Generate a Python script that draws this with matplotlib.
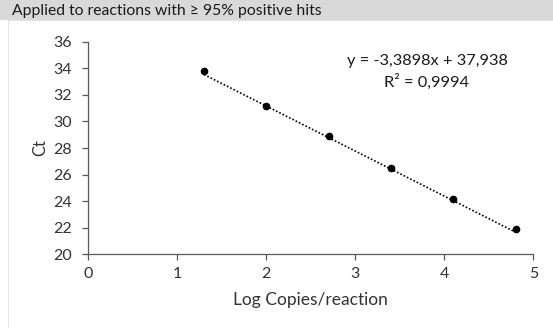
import matplotlib
matplotlib.use("Agg")
import matplotlib.pyplot as plt
import numpy as np
from matplotlib.patches import Rectangle

# Standard curve data
log_copies = [1.30, 2.00, 2.70, 3.40, 4.10, 4.80]
ct_values = [33.82, 31.16, 28.90, 26.47, 24.19, 21.93]

# Trendline as printed on the chart
slope = -3.3898
intercept = 37.938
r_squared = 0.9994

x_ticks = [0, 1, 2, 3, 4, 5]
y_ticks = [20, 22, 24, 26, 28, 30, 32, 34, 36]

title = "Applied to reactions with \u2265 95% positive hits"
x_label = "Log Copies/reaction"
y_label = "Ct"

W, H = 553, 328


def comma(v, nd):
    return f"{v:.{nd}f}".replace(".", ",")


plt.rcParams["font.family"] = ["Lato", "DejaVu Sans"]

fig = plt.figure(figsize=(W / 100, H / 100), dpi=100)

# header band and chart frame
fig.patches.append(Rectangle((0, 1 - 20 / H), 1, 20 / H, transform=fig.transFigure,
                             facecolor="#d9d9d9", edgecolor="none", zorder=-10))
fig.patches.append(Rectangle((8 / W, -0.01), 1, 1 - 20 / H + 0.01, transform=fig.transFigure,
                             facecolor="white", edgecolor="#e4e4e4", linewidth=0.8, zorder=-10))
fig.text(12 / W, 1 - 11 / H, title, fontsize=11.3, va="center", ha="left", color="#1a1a1a")

ax = fig.add_axes([88.3 / W, 1 - 254.3 / H, 445 / W, 212.6 / H])
ax.patch.set_alpha(0)
ax.set_xlim(0, 5)
ax.set_ylim(20, 36)

x_fit = np.array([min(log_copies), max(log_copies)])
ax.plot(x_fit, slope * x_fit + intercept, linestyle=(0, (1, 1.2)), color="black", linewidth=1.2)
ax.plot(log_copies, ct_values, "o", color="black", markersize=4.5)

ax.set_xticks(x_ticks)
ax.set_yticks(y_ticks)
for s in ["top", "right"]:
    ax.spines[s].set_visible(False)
for s in ["left", "bottom"]:
    ax.spines[s].set_color("#595959")
    ax.spines[s].set_linewidth(0.9)
ax.tick_params(direction="out", length=4, width=0.9, color="#595959",
               labelsize=11.5, labelcolor="#333333")
ax.tick_params(axis="y", pad=8)
ax.tick_params(axis="x", pad=5)

ax.set_xlabel(x_label, fontsize=12.5, color="#333333", labelpad=8)
ax.set_ylabel(y_label, fontsize=12, color="#333333", labelpad=3)

eq = f"y = {comma(slope, 4)}x + {comma(intercept, 3)}"
fig.text(427 / W, 1 - 60.7 / H, eq, fontsize=11.8, ha="center", va="center", color="#1a1a1a")
fig.text(426 / W, 1 - 81.7 / H, f"R\u00b2 = {comma(r_squared, 4)}",
         fontsize=11.8, ha="center", va="center", color="#1a1a1a")

fig.savefig("out.png", dpi=100)
